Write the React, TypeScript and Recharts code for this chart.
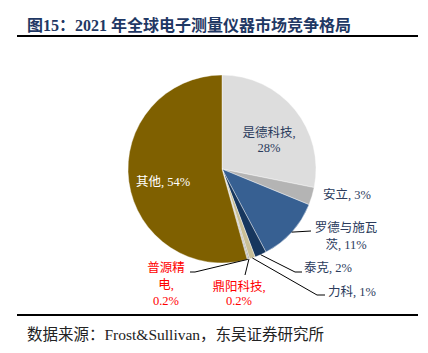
import { PieChart, Pie, Cell } from 'recharts'

const companies = ['是德科技', '安立', '罗德与施瓦茨', '泰克', '力科', '鼎阳科技', '普源精电', '其他']
const shares = [28, 3, 11, 2, 1, 0.2, 0.2, 54]
const labelText = [
  ['是德科技,', '28%'],
  ['安立, 3%'],
  ['罗德与施瓦', '茨, 11%'],
  ['泰克, 2%'],
  ['力科, 1%'],
  ['鼎阳科技,', '0.2%'],
  ['普源精', '电,', '0.2%'],
  ['其他, 54%'],
]
const colors = ['#DDDDDD', '#B4B4B4', '#376092', '#17375E', '#C9BF96', '#8C8C8C', '#A6A6A6', '#7F6000']

const data = companies.map((name, i) => ({ name, value: shares[i] }))

const NAVY = '#2B3B5C'
const FONT = '"Liberation Serif", "Noto Sans CJK SC", serif'
const RADIAN = Math.PI / 180

// label placement relative to pie centre: text anchor x, line y's, optional leader bends
const layout = [
  { x: 47, ys: [-36, -21], anchor: 'middle', color: NAVY },
  { x: 101, ys: [26], anchor: 'start', color: NAVY },
  { x: 124, ys: [59, 76], anchor: 'middle', color: NAVY, line: [[89, 62]] },
  { x: 82, ys: [99], anchor: 'start', color: NAVY, line: [[73, 103], [80, 103]] },
  { x: 106, ys: [123], anchor: 'start', color: NAVY, line: [[95, 126], [103, 126]] },
  { x: 17, ys: [118, 132], anchor: 'middle', color: '#FF0000', line: [[23, 106]] },
  { x: -56, ys: [99, 116, 132], anchor: 'middle', color: '#FF0000', line: [[-27, 103], [-32, 103]] },
  { x: -59, ys: [13], anchor: 'middle', color: '#FFFFFF' },
]

const renderLabel = (props: any) => {
  const { cx, cy, midAngle, outerRadius, index } = props
  const l: any = layout[index]
  const sx = cx + outerRadius * Math.cos(-midAngle * RADIAN)
  const sy = cy + outerRadius * Math.sin(-midAngle * RADIAN)
  const pts = l.line ? [[sx, sy], ...l.line.map((p: number[]) => [cx + p[0], cy + p[1]])] : null
  return (
    <g key={`lbl-${index}`}>
      {pts && (
        <polyline
          points={pts.map((p: number[]) => p.join(',')).join(' ')}
          fill="none"
          stroke="#000"
          strokeWidth={1}
        />
      )}
      {labelText[index].map((t, j) => (
        <text
          key={j}
          x={cx + l.x}
          y={cy + l.ys[j]}
          textAnchor={l.anchor}
          dominantBaseline="central"
          fill={l.color}
          fontSize={12.5}
          fontFamily={FONT}
        >
          {t}
        </text>
      ))}
    </g>
  )
}

export default function App() {
  return (
    <div style={{ position: 'absolute', left: 0, top: 0, width: 428, height: 353, background: '#fff', fontFamily: FONT }}>
      <div style={{ position: 'absolute', left: 27, top: 12, fontSize: 16, fontWeight: 'bold', color: '#1F3864', whiteSpace: 'nowrap' }}>
        图15：2021 年全球电子测量仪器市场竞争格局
      </div>
      <div style={{ position: 'absolute', left: 17, top: 35, width: 401, height: 2, background: '#000' }} />
      <PieChart width={428} height={353}>
        <Pie
          data={data}
          dataKey="value"
          nameKey="name"
          cx={217}
          cy={164}
          outerRadius={94}
          startAngle={90}
          endAngle={-270}
          stroke="#FFFFFF"
          strokeWidth={0.4}
          label={renderLabel}
          labelLine={false}
          isAnimationActive={false}
        >
          {data.map((d, i) => (
            <Cell key={d.name} fill={colors[i]} />
          ))}
        </Pie>
      </PieChart>
      <div style={{ position: 'absolute', left: 17, top: 314, width: 401, height: 2, background: '#000' }} />
      <div style={{ position: 'absolute', left: 27, top: 322, fontSize: 15.5, color: '#222', whiteSpace: 'nowrap' }}>
        数据来源：Frost&amp;Sullivan，东吴证券研究所
      </div>
    </div>
  )
}
